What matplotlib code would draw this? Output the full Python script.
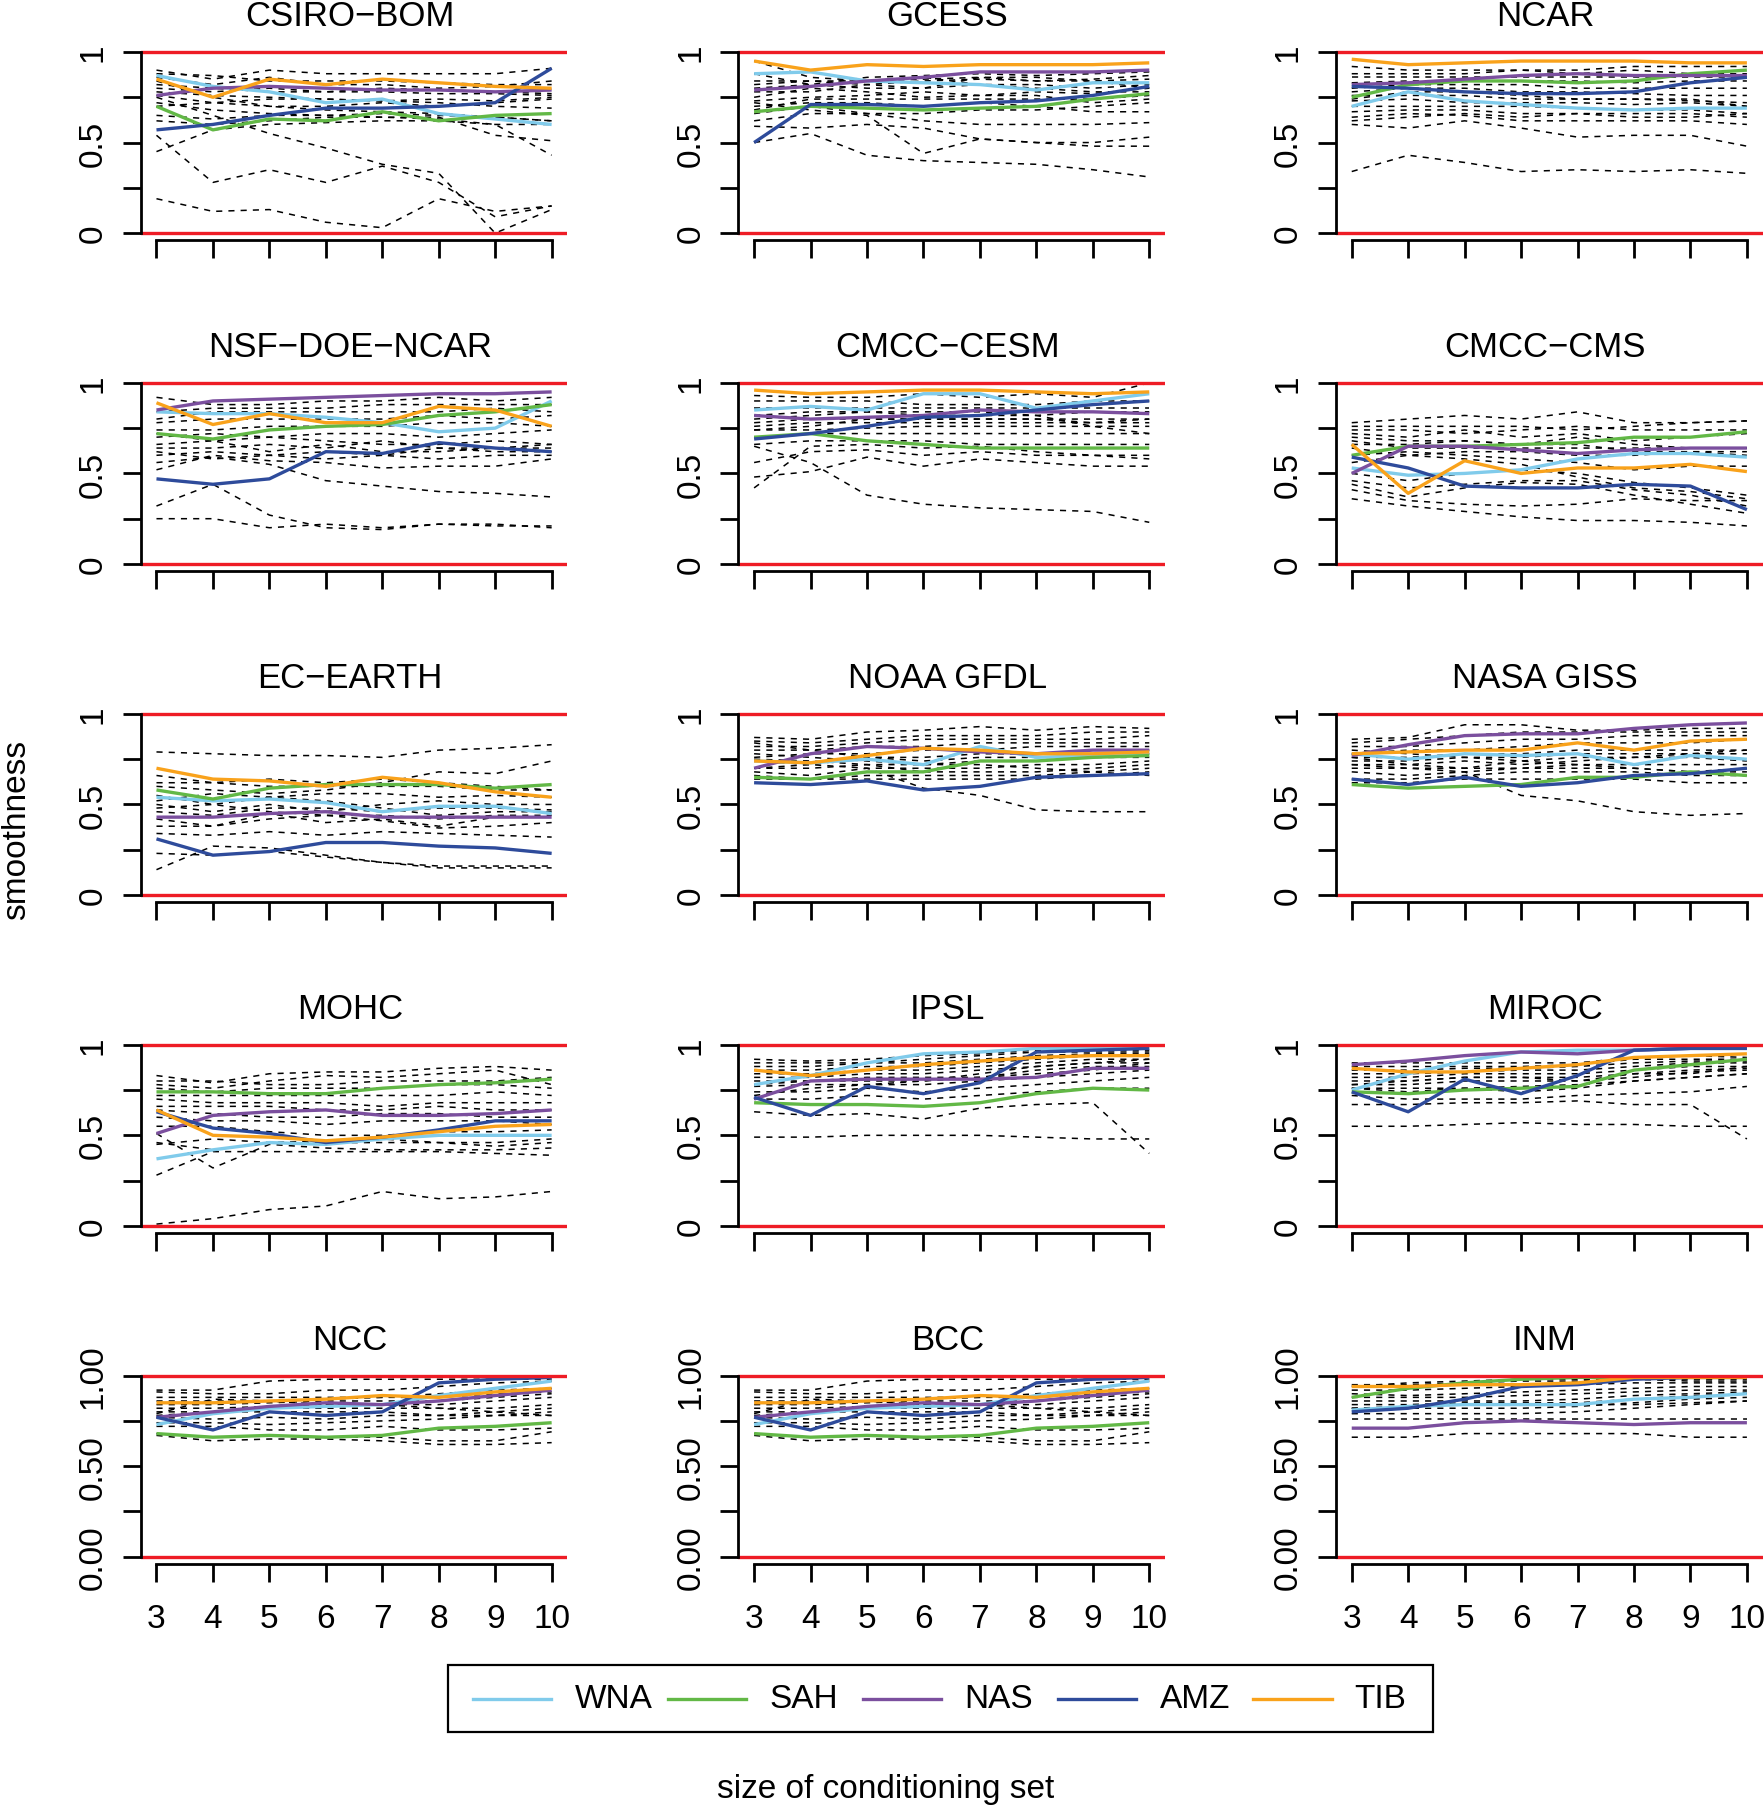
import matplotlib
matplotlib.use("Agg")
import matplotlib.pyplot as plt
from matplotlib.lines import Line2D
from matplotlib.patches import Rectangle

plt.rcParams['font.family'] = ['Liberation Sans', 'DejaVu Sans']

# ---------------- data ----------------
sizes = [3, 4, 5, 6, 7, 8, 9, 10]
regions = ["WNA", "SAH", "NAS", "AMZ", "TIB"]
region_colors = ["#80CBEB", "#62B846", "#7B4F9E", "#2E4B9B", "#F9A21B"]
models = ["CSIRO−BOM", "GCESS", "NCAR",
          "NSF−DOE−NCAR", "CMCC−CESM", "CMCC−CMS",
          "EC−EARTH", "NOAA GFDL", "NASA GISS",
          "MOHC", "IPSL", "MIROC",
          "NCC", "BCC", "INM"]

# highlighted regions, order WNA, SAH, NAS, AMZ, TIB
csiro_bom_hl = [
    [0.87, 0.81, 0.78, 0.72, 0.74, 0.66, 0.63, 0.60],
    [0.70, 0.57, 0.63, 0.62, 0.67, 0.62, 0.65, 0.66],
    [0.76, 0.80, 0.81, 0.80, 0.79, 0.79, 0.78, 0.79],
    [0.57, 0.60, 0.65, 0.69, 0.69, 0.70, 0.72, 0.91],
    [0.85, 0.75, 0.85, 0.82, 0.85, 0.83, 0.81, 0.80]]
gcess_hl = [
    [0.88, 0.89, 0.84, 0.83, 0.82, 0.79, 0.83, 0.83],
    [0.67, 0.70, 0.69, 0.68, 0.69, 0.70, 0.74, 0.77],
    [0.79, 0.81, 0.84, 0.86, 0.89, 0.89, 0.89, 0.90],
    [0.50, 0.71, 0.71, 0.70, 0.72, 0.73, 0.76, 0.81],
    [0.95, 0.90, 0.93, 0.92, 0.93, 0.93, 0.93, 0.94]]
ncar_hl = [
    [0.70, 0.78, 0.73, 0.71, 0.69, 0.68, 0.69, 0.69],
    [0.75, 0.82, 0.84, 0.84, 0.83, 0.84, 0.88, 0.90],
    [0.82, 0.83, 0.85, 0.87, 0.88, 0.87, 0.87, 0.87],
    [0.81, 0.80, 0.78, 0.77, 0.77, 0.78, 0.83, 0.86],
    [0.96, 0.93, 0.94, 0.95, 0.95, 0.95, 0.94, 0.94]]
nsf_doe_ncar_hl = [
    [0.84, 0.83, 0.83, 0.81, 0.78, 0.73, 0.75, 0.90],
    [0.72, 0.69, 0.74, 0.76, 0.77, 0.82, 0.84, 0.88],
    [0.85, 0.90, 0.91, 0.92, 0.93, 0.94, 0.94, 0.95],
    [0.47, 0.44, 0.47, 0.62, 0.61, 0.67, 0.64, 0.62],
    [0.89, 0.77, 0.83, 0.78, 0.78, 0.87, 0.85, 0.76]]
cmcc_cesm_hl = [
    [0.85, 0.87, 0.85, 0.94, 0.94, 0.86, 0.90, 0.94],
    [0.70, 0.72, 0.68, 0.66, 0.64, 0.64, 0.64, 0.64],
    [0.82, 0.80, 0.81, 0.82, 0.85, 0.84, 0.84, 0.83],
    [0.69, 0.72, 0.76, 0.81, 0.82, 0.85, 0.88, 0.90],
    [0.96, 0.94, 0.95, 0.96, 0.96, 0.95, 0.94, 0.95]]
cmcc_cms_hl = [
    [0.53, 0.49, 0.50, 0.52, 0.58, 0.61, 0.61, 0.59],
    [0.60, 0.65, 0.65, 0.66, 0.67, 0.70, 0.70, 0.73],
    [0.50, 0.65, 0.65, 0.63, 0.61, 0.63, 0.64, 0.64],
    [0.59, 0.53, 0.43, 0.42, 0.42, 0.44, 0.43, 0.30],
    [0.66, 0.39, 0.57, 0.50, 0.53, 0.53, 0.55, 0.51]]
ec_earth_hl = [
    [0.54, 0.52, 0.53, 0.51, 0.46, 0.49, 0.49, 0.45],
    [0.58, 0.53, 0.59, 0.61, 0.61, 0.61, 0.59, 0.61],
    [0.43, 0.43, 0.45, 0.46, 0.43, 0.43, 0.43, 0.43],
    [0.31, 0.22, 0.24, 0.29, 0.29, 0.27, 0.26, 0.23],
    [0.70, 0.64, 0.63, 0.60, 0.65, 0.62, 0.57, 0.54]]
noaa_gfdl_hl = [
    [0.74, 0.73, 0.75, 0.72, 0.82, 0.76, 0.77, 0.78],
    [0.65, 0.64, 0.68, 0.68, 0.74, 0.74, 0.76, 0.77],
    [0.70, 0.78, 0.82, 0.81, 0.79, 0.78, 0.80, 0.80],
    [0.62, 0.61, 0.63, 0.58, 0.60, 0.65, 0.66, 0.67],
    [0.74, 0.73, 0.77, 0.81, 0.80, 0.78, 0.78, 0.79]]
nasa_giss_hl = [
    [0.78, 0.75, 0.78, 0.77, 0.78, 0.72, 0.77, 0.75],
    [0.61, 0.59, 0.60, 0.61, 0.65, 0.65, 0.68, 0.66],
    [0.77, 0.83, 0.88, 0.89, 0.89, 0.92, 0.94, 0.95],
    [0.64, 0.61, 0.65, 0.60, 0.62, 0.66, 0.67, 0.70],
    [0.78, 0.79, 0.80, 0.80, 0.84, 0.80, 0.85, 0.86]]
mohc_hl = [
    [0.37, 0.42, 0.46, 0.45, 0.48, 0.50, 0.50, 0.50],
    [0.74, 0.74, 0.73, 0.73, 0.76, 0.78, 0.79, 0.81],
    [0.51, 0.61, 0.63, 0.64, 0.61, 0.61, 0.62, 0.64],
    [0.63, 0.54, 0.51, 0.46, 0.49, 0.53, 0.58, 0.58],
    [0.64, 0.50, 0.49, 0.47, 0.49, 0.52, 0.55, 0.56]]
ipsl_hl = [
    [0.78, 0.83, 0.90, 0.95, 0.96, 0.98, 0.98, 0.98],
    [0.68, 0.67, 0.67, 0.66, 0.68, 0.73, 0.76, 0.75],
    [0.70, 0.80, 0.81, 0.81, 0.81, 0.82, 0.87, 0.87],
    [0.71, 0.61, 0.77, 0.73, 0.79, 0.96, 0.97, 0.98],
    [0.86, 0.83, 0.86, 0.89, 0.91, 0.93, 0.94, 0.94]]
miroc_hl = [
    [0.75, 0.84, 0.91, 0.96, 0.97, 0.97, 0.98, 0.98],
    [0.74, 0.73, 0.75, 0.76, 0.77, 0.86, 0.89, 0.92],
    [0.89, 0.91, 0.94, 0.96, 0.95, 0.97, 0.98, 0.98],
    [0.74, 0.63, 0.81, 0.73, 0.83, 0.97, 0.98, 0.98],
    [0.87, 0.85, 0.85, 0.87, 0.89, 0.93, 0.94, 0.95]]
ncc_hl = [
    [0.73, 0.79, 0.82, 0.83, 0.84, 0.89, 0.93, 0.97],
    [0.68, 0.66, 0.67, 0.66, 0.67, 0.71, 0.72, 0.74],
    [0.77, 0.80, 0.83, 0.85, 0.84, 0.86, 0.89, 0.92],
    [0.77, 0.70, 0.80, 0.78, 0.80, 0.96, 0.98, 0.99],
    [0.85, 0.85, 0.86, 0.87, 0.89, 0.88, 0.91, 0.93]]
bcc_hl = [
    [0.73, 0.79, 0.82, 0.83, 0.84, 0.89, 0.93, 0.97],
    [0.68, 0.66, 0.67, 0.66, 0.67, 0.71, 0.72, 0.74],
    [0.77, 0.80, 0.83, 0.85, 0.84, 0.86, 0.89, 0.92],
    [0.77, 0.70, 0.80, 0.78, 0.80, 0.96, 0.98, 0.99],
    [0.85, 0.85, 0.86, 0.87, 0.89, 0.88, 0.91, 0.93]]
inm_hl = [
    [0.81, 0.83, 0.84, 0.84, 0.84, 0.87, 0.88, 0.90],
    [0.88, 0.93, 0.96, 0.98, 0.99, 0.99, 0.99, 0.99],
    [0.71, 0.71, 0.74, 0.75, 0.74, 0.73, 0.74, 0.74],
    [0.80, 0.82, 0.87, 0.94, 0.95, 0.98, 0.99, 0.99],
    [0.94, 0.94, 0.95, 0.95, 0.96, 0.99, 0.99, 0.99]]

# all other regions (black dashed)
csiro_bom_other = [
    [0.19, 0.12, 0.13, 0.06, 0.03, 0.19, 0.12, 0.15],
    [0.54, 0.28, 0.35, 0.28, 0.37, 0.28, 0.09, 0.15],
    [0.75, 0.65, 0.55, 0.47, 0.38, 0.33, 0.00, 0.13],
    [0.45, 0.57, 0.60, 0.61, 0.62, 0.62, 0.60, 0.60],
    [0.62, 0.60, 0.62, 0.64, 0.64, 0.64, 0.54, 0.51],
    [0.72, 0.68, 0.66, 0.65, 0.64, 0.63, 0.60, 0.43],
    [0.65, 0.63, 0.65, 0.65, 0.66, 0.65, 0.64, 0.62],
    [0.70, 0.72, 0.74, 0.74, 0.73, 0.72, 0.70, 0.69],
    [0.78, 0.76, 0.75, 0.74, 0.73, 0.74, 0.73, 0.75],
    [0.80, 0.78, 0.80, 0.78, 0.78, 0.77, 0.77, 0.76],
    [0.82, 0.80, 0.78, 0.78, 0.80, 0.79, 0.78, 0.77],
    [0.86, 0.82, 0.86, 0.82, 0.82, 0.80, 0.81, 0.84],
    [0.90, 0.85, 0.90, 0.88, 0.88, 0.88, 0.88, 0.91],
    [0.88, 0.87, 0.84, 0.84, 0.84, 0.83, 0.82, 0.82],
    [0.76, 0.72, 0.70, 0.70, 0.72, 0.70, 0.72, 0.74],
    [0.84, 0.75, 0.70, 0.68, 0.67, 0.66, 0.64, 0.62]]
gcess_other = [
    [0.50, 0.55, 0.43, 0.40, 0.39, 0.38, 0.35, 0.31],
    [0.59, 0.58, 0.60, 0.58, 0.52, 0.50, 0.50, 0.53],
    [0.72, 0.68, 0.65, 0.44, 0.52, 0.50, 0.48, 0.48],
    [0.66, 0.70, 0.66, 0.62, 0.60, 0.60, 0.60, 0.61],
    [0.70, 0.72, 0.72, 0.70, 0.72, 0.70, 0.67, 0.67],
    [0.75, 0.80, 0.78, 0.75, 0.76, 0.76, 0.72, 0.74],
    [0.80, 0.82, 0.80, 0.80, 0.82, 0.80, 0.78, 0.78],
    [0.84, 0.84, 0.84, 0.86, 0.82, 0.82, 0.80, 0.82],
    [0.95, 0.86, 0.84, 0.85, 0.86, 0.84, 0.85, 0.87],
    [0.88, 0.82, 0.86, 0.87, 0.88, 0.87, 0.88, 0.89],
    [0.78, 0.78, 0.82, 0.84, 0.85, 0.84, 0.84, 0.85],
    [0.73, 0.75, 0.76, 0.78, 0.76, 0.78, 0.77, 0.80],
    [0.68, 0.74, 0.74, 0.74, 0.74, 0.74, 0.74, 0.76],
    [0.62, 0.66, 0.66, 0.66, 0.68, 0.68, 0.70, 0.72],
    [0.82, 0.84, 0.82, 0.80, 0.86, 0.86, 0.84, 0.80]]
ncar_other = [
    [0.34, 0.43, 0.39, 0.34, 0.35, 0.34, 0.35, 0.33],
    [0.60, 0.58, 0.62, 0.58, 0.53, 0.54, 0.54, 0.48],
    [0.64, 0.66, 0.65, 0.62, 0.62, 0.62, 0.62, 0.60],
    [0.67, 0.68, 0.68, 0.66, 0.66, 0.66, 0.66, 0.64],
    [0.70, 0.70, 0.70, 0.70, 0.69, 0.68, 0.68, 0.66],
    [0.73, 0.74, 0.72, 0.72, 0.72, 0.71, 0.72, 0.70],
    [0.76, 0.76, 0.76, 0.74, 0.74, 0.74, 0.73, 0.72],
    [0.78, 0.80, 0.80, 0.78, 0.78, 0.77, 0.76, 0.76],
    [0.80, 0.82, 0.82, 0.82, 0.80, 0.80, 0.80, 0.80],
    [0.83, 0.84, 0.84, 0.84, 0.84, 0.83, 0.84, 0.84],
    [0.86, 0.86, 0.86, 0.86, 0.86, 0.86, 0.86, 0.86],
    [0.88, 0.88, 0.88, 0.90, 0.88, 0.90, 0.88, 0.88],
    [0.92, 0.90, 0.90, 0.90, 0.90, 0.92, 0.92, 0.92],
    [0.74, 0.78, 0.78, 0.76, 0.74, 0.74, 0.74, 0.70],
    [0.62, 0.64, 0.66, 0.64, 0.66, 0.64, 0.64, 0.66]]
nsf_doe_ncar_other = [
    [0.25, 0.25, 0.20, 0.22, 0.20, 0.22, 0.22, 0.20],
    [0.32, 0.44, 0.27, 0.20, 0.19, 0.22, 0.21, 0.21],
    [0.56, 0.59, 0.55, 0.46, 0.43, 0.40, 0.39, 0.37],
    [0.52, 0.60, 0.57, 0.56, 0.53, 0.54, 0.54, 0.58],
    [0.60, 0.62, 0.60, 0.58, 0.60, 0.64, 0.64, 0.66],
    [0.64, 0.64, 0.66, 0.64, 0.68, 0.64, 0.62, 0.62],
    [0.66, 0.68, 0.70, 0.68, 0.66, 0.66, 0.68, 0.66],
    [0.70, 0.72, 0.70, 0.72, 0.72, 0.70, 0.72, 0.74],
    [0.74, 0.74, 0.76, 0.76, 0.76, 0.78, 0.78, 0.76],
    [0.78, 0.80, 0.80, 0.80, 0.80, 0.82, 0.80, 0.82],
    [0.80, 0.84, 0.84, 0.84, 0.84, 0.84, 0.86, 0.84],
    [0.84, 0.86, 0.86, 0.86, 0.88, 0.88, 0.88, 0.88],
    [0.92, 0.88, 0.88, 0.90, 0.90, 0.92, 0.90, 0.92],
    [0.72, 0.68, 0.62, 0.66, 0.62, 0.62, 0.64, 0.64],
    [0.62, 0.58, 0.60, 0.62, 0.60, 0.58, 0.60, 0.60]]
cmcc_cesm_other = [
    [0.65, 0.56, 0.38, 0.33, 0.31, 0.30, 0.29, 0.23],
    [0.42, 0.65, 0.66, 0.64, 0.65, 0.62, 0.60, 0.60],
    [0.48, 0.51, 0.59, 0.54, 0.58, 0.56, 0.54, 0.54],
    [0.56, 0.62, 0.63, 0.60, 0.62, 0.60, 0.60, 0.58],
    [0.66, 0.68, 0.68, 0.68, 0.66, 0.66, 0.66, 0.66],
    [0.70, 0.72, 0.72, 0.72, 0.72, 0.72, 0.72, 0.72],
    [0.74, 0.74, 0.75, 0.76, 0.76, 0.76, 0.76, 0.76],
    [0.76, 0.78, 0.78, 0.78, 0.78, 0.78, 0.78, 0.78],
    [0.78, 0.80, 0.80, 0.80, 0.80, 0.80, 0.80, 0.80],
    [0.82, 0.84, 0.84, 0.82, 0.82, 0.82, 0.84, 0.84],
    [0.86, 0.86, 0.86, 0.86, 0.86, 0.86, 0.86, 0.86],
    [0.90, 0.90, 0.90, 0.88, 0.88, 0.88, 0.90, 0.90],
    [0.93, 0.92, 0.92, 0.94, 0.92, 0.94, 0.92, 1.00],
    [0.80, 0.82, 0.84, 0.84, 0.84, 0.82, 0.76, 0.72],
    [0.74, 0.76, 0.80, 0.80, 0.80, 0.80, 0.78, 0.80]]
cmcc_cms_other = [
    [0.36, 0.32, 0.29, 0.26, 0.24, 0.24, 0.23, 0.21],
    [0.41, 0.35, 0.33, 0.32, 0.33, 0.36, 0.35, 0.35],
    [0.44, 0.37, 0.42, 0.45, 0.44, 0.38, 0.33, 0.28],
    [0.46, 0.42, 0.44, 0.46, 0.46, 0.41, 0.38, 0.32],
    [0.50, 0.46, 0.50, 0.52, 0.50, 0.45, 0.42, 0.38],
    [0.56, 0.60, 0.58, 0.55, 0.48, 0.42, 0.40, 0.36],
    [0.60, 0.62, 0.60, 0.58, 0.56, 0.52, 0.54, 0.54],
    [0.64, 0.60, 0.62, 0.62, 0.60, 0.60, 0.62, 0.60],
    [0.68, 0.64, 0.64, 0.64, 0.64, 0.64, 0.64, 0.64],
    [0.70, 0.68, 0.68, 0.66, 0.70, 0.66, 0.64, 0.64],
    [0.72, 0.70, 0.74, 0.70, 0.72, 0.68, 0.70, 0.72],
    [0.74, 0.74, 0.72, 0.74, 0.76, 0.74, 0.74, 0.74],
    [0.78, 0.80, 0.82, 0.80, 0.84, 0.78, 0.78, 0.79],
    [0.76, 0.76, 0.76, 0.76, 0.74, 0.76, 0.78, 0.79],
    [0.66, 0.66, 0.68, 0.66, 0.66, 0.62, 0.62, 0.62]]
ec_earth_other = [
    [0.79, 0.78, 0.77, 0.77, 0.76, 0.80, 0.81, 0.83],
    [0.14, 0.27, 0.26, 0.22, 0.18, 0.16, 0.16, 0.16],
    [0.23, 0.22, 0.24, 0.21, 0.18, 0.15, 0.15, 0.15],
    [0.34, 0.33, 0.35, 0.33, 0.35, 0.34, 0.33, 0.32],
    [0.38, 0.38, 0.42, 0.44, 0.41, 0.37, 0.38, 0.40],
    [0.42, 0.38, 0.45, 0.40, 0.42, 0.38, 0.43, 0.43],
    [0.46, 0.44, 0.48, 0.48, 0.46, 0.48, 0.48, 0.47],
    [0.50, 0.46, 0.50, 0.46, 0.50, 0.52, 0.50, 0.50],
    [0.55, 0.50, 0.54, 0.56, 0.56, 0.54, 0.55, 0.54],
    [0.60, 0.58, 0.56, 0.58, 0.62, 0.68, 0.67, 0.74],
    [0.62, 0.62, 0.60, 0.60, 0.60, 0.60, 0.58, 0.58],
    [0.66, 0.62, 0.64, 0.62, 0.64, 0.62, 0.60, 0.58],
    [0.52, 0.56, 0.54, 0.52, 0.48, 0.44, 0.46, 0.46],
    [0.48, 0.50, 0.46, 0.44, 0.44, 0.42, 0.44, 0.44]]
noaa_gfdl_other = [
    [0.70, 0.72, 0.70, 0.59, 0.55, 0.47, 0.46, 0.46],
    [0.87, 0.86, 0.90, 0.91, 0.93, 0.91, 0.93, 0.92],
    [0.85, 0.84, 0.86, 0.88, 0.88, 0.88, 0.90, 0.90],
    [0.82, 0.82, 0.84, 0.86, 0.86, 0.86, 0.86, 0.88],
    [0.80, 0.80, 0.82, 0.82, 0.84, 0.84, 0.84, 0.84],
    [0.76, 0.78, 0.78, 0.80, 0.80, 0.82, 0.82, 0.82],
    [0.74, 0.72, 0.76, 0.76, 0.78, 0.78, 0.80, 0.80],
    [0.70, 0.70, 0.72, 0.72, 0.74, 0.74, 0.76, 0.76],
    [0.68, 0.66, 0.70, 0.70, 0.70, 0.72, 0.72, 0.74],
    [0.66, 0.64, 0.66, 0.66, 0.66, 0.66, 0.68, 0.70],
    [0.64, 0.64, 0.64, 0.64, 0.64, 0.64, 0.66, 0.68],
    [0.78, 0.76, 0.74, 0.72, 0.72, 0.70, 0.68, 0.66],
    [0.84, 0.80, 0.76, 0.74, 0.76, 0.76, 0.76, 0.78],
    [0.75, 0.74, 0.72, 0.68, 0.68, 0.68, 0.70, 0.72]]
nasa_giss_other = [
    [0.72, 0.70, 0.68, 0.55, 0.52, 0.46, 0.44, 0.45],
    [0.86, 0.87, 0.94, 0.94, 0.91, 0.91, 0.92, 0.92],
    [0.84, 0.86, 0.88, 0.90, 0.90, 0.90, 0.90, 0.90],
    [0.82, 0.82, 0.84, 0.86, 0.86, 0.88, 0.88, 0.88],
    [0.78, 0.80, 0.80, 0.82, 0.84, 0.84, 0.84, 0.86],
    [0.76, 0.76, 0.78, 0.78, 0.80, 0.80, 0.80, 0.80],
    [0.74, 0.74, 0.76, 0.76, 0.78, 0.78, 0.78, 0.78],
    [0.72, 0.72, 0.74, 0.72, 0.74, 0.76, 0.76, 0.74],
    [0.70, 0.70, 0.70, 0.70, 0.72, 0.72, 0.72, 0.72],
    [0.68, 0.66, 0.68, 0.70, 0.70, 0.70, 0.68, 0.70],
    [0.64, 0.64, 0.66, 0.68, 0.68, 0.68, 0.66, 0.66],
    [0.62, 0.62, 0.64, 0.64, 0.64, 0.64, 0.62, 0.62],
    [0.80, 0.78, 0.76, 0.74, 0.72, 0.70, 0.68, 0.68],
    [0.76, 0.72, 0.70, 0.74, 0.76, 0.76, 0.78, 0.80]]
mohc_other = [
    [0.01, 0.04, 0.09, 0.11, 0.19, 0.15, 0.16, 0.19],
    [0.28, 0.41, 0.41, 0.41, 0.41, 0.41, 0.40, 0.39],
    [0.51, 0.32, 0.45, 0.43, 0.42, 0.42, 0.42, 0.43],
    [0.45, 0.48, 0.46, 0.46, 0.46, 0.46, 0.44, 0.46],
    [0.46, 0.42, 0.46, 0.47, 0.48, 0.46, 0.46, 0.48],
    [0.55, 0.55, 0.52, 0.50, 0.50, 0.52, 0.52, 0.53],
    [0.60, 0.58, 0.58, 0.56, 0.58, 0.58, 0.58, 0.56],
    [0.64, 0.62, 0.60, 0.60, 0.62, 0.62, 0.60, 0.60],
    [0.66, 0.66, 0.66, 0.64, 0.64, 0.66, 0.64, 0.64],
    [0.70, 0.68, 0.68, 0.68, 0.66, 0.68, 0.68, 0.68],
    [0.72, 0.72, 0.72, 0.72, 0.72, 0.72, 0.74, 0.72],
    [0.76, 0.74, 0.76, 0.76, 0.76, 0.78, 0.78, 0.76],
    [0.80, 0.80, 0.78, 0.78, 0.80, 0.80, 0.80, 0.82],
    [0.83, 0.79, 0.84, 0.85, 0.85, 0.87, 0.88, 0.86],
    [0.78, 0.76, 0.80, 0.83, 0.82, 0.84, 0.86, 0.78]]
ipsl_other = [
    [0.49, 0.49, 0.50, 0.50, 0.50, 0.49, 0.48, 0.48],
    [0.63, 0.61, 0.62, 0.59, 0.65, 0.67, 0.68, 0.40],
    [0.70, 0.70, 0.72, 0.70, 0.72, 0.74, 0.76, 0.76],
    [0.74, 0.74, 0.76, 0.74, 0.76, 0.78, 0.80, 0.82],
    [0.77, 0.78, 0.78, 0.78, 0.80, 0.82, 0.84, 0.86],
    [0.80, 0.80, 0.82, 0.82, 0.82, 0.86, 0.88, 0.88],
    [0.82, 0.82, 0.84, 0.84, 0.86, 0.88, 0.90, 0.90],
    [0.84, 0.84, 0.86, 0.86, 0.88, 0.90, 0.92, 0.92],
    [0.86, 0.86, 0.88, 0.88, 0.90, 0.92, 0.94, 0.94],
    [0.88, 0.88, 0.90, 0.90, 0.92, 0.94, 0.95, 0.95],
    [0.90, 0.90, 0.90, 0.92, 0.94, 0.96, 0.96, 0.96],
    [0.92, 0.91, 0.92, 0.94, 0.95, 0.97, 0.97, 0.97],
    [0.78, 0.80, 0.80, 0.80, 0.82, 0.84, 0.86, 0.90],
    [0.72, 0.76, 0.78, 0.80, 0.84, 0.88, 0.90, 0.92]]
miroc_other = [
    [0.55, 0.55, 0.56, 0.57, 0.56, 0.56, 0.55, 0.55],
    [0.67, 0.67, 0.68, 0.68, 0.69, 0.67, 0.67, 0.48],
    [0.72, 0.70, 0.70, 0.70, 0.72, 0.73, 0.74, 0.77],
    [0.76, 0.76, 0.76, 0.77, 0.78, 0.80, 0.82, 0.84],
    [0.78, 0.78, 0.80, 0.80, 0.80, 0.82, 0.85, 0.86],
    [0.80, 0.80, 0.82, 0.82, 0.82, 0.84, 0.86, 0.87],
    [0.82, 0.82, 0.84, 0.84, 0.84, 0.86, 0.88, 0.88],
    [0.84, 0.84, 0.85, 0.86, 0.86, 0.88, 0.90, 0.90],
    [0.86, 0.86, 0.87, 0.87, 0.88, 0.90, 0.91, 0.91],
    [0.88, 0.88, 0.88, 0.88, 0.89, 0.92, 0.92, 0.92],
    [0.90, 0.90, 0.90, 0.90, 0.90, 0.93, 0.94, 0.93],
    [0.78, 0.80, 0.82, 0.82, 0.80, 0.84, 0.84, 0.88],
    [0.76, 0.74, 0.76, 0.74, 0.76, 0.80, 0.82, 0.84]]
ncc_other = [
    [0.67, 0.64, 0.65, 0.65, 0.64, 0.62, 0.62, 0.63],
    [0.68, 0.66, 0.67, 0.66, 0.66, 0.64, 0.64, 0.69],
    [0.72, 0.72, 0.70, 0.70, 0.72, 0.70, 0.70, 0.71],
    [0.74, 0.74, 0.73, 0.74, 0.75, 0.76, 0.78, 0.80],
    [0.77, 0.76, 0.77, 0.76, 0.78, 0.78, 0.80, 0.82],
    [0.78, 0.80, 0.80, 0.80, 0.80, 0.78, 0.78, 0.78],
    [0.80, 0.80, 0.82, 0.82, 0.82, 0.82, 0.82, 0.84],
    [0.82, 0.82, 0.83, 0.84, 0.84, 0.84, 0.86, 0.88],
    [0.84, 0.84, 0.85, 0.86, 0.86, 0.86, 0.88, 0.90],
    [0.86, 0.86, 0.86, 0.87, 0.88, 0.88, 0.90, 0.91],
    [0.88, 0.88, 0.88, 0.88, 0.88, 0.90, 0.92, 0.93],
    [0.92, 0.92, 0.97, 0.98, 0.98, 0.98, 0.98, 0.98],
    [0.91, 0.90, 0.90, 0.92, 0.92, 0.94, 0.96, 0.97],
    [0.79, 0.87, 0.86, 0.84, 0.84, 0.82, 0.80, 0.78]]
bcc_other = [
    [0.67, 0.64, 0.65, 0.65, 0.64, 0.62, 0.62, 0.63],
    [0.68, 0.66, 0.67, 0.66, 0.66, 0.64, 0.64, 0.69],
    [0.72, 0.72, 0.70, 0.70, 0.72, 0.70, 0.70, 0.71],
    [0.74, 0.74, 0.73, 0.74, 0.75, 0.76, 0.78, 0.80],
    [0.77, 0.76, 0.77, 0.76, 0.78, 0.78, 0.80, 0.82],
    [0.78, 0.80, 0.80, 0.80, 0.80, 0.78, 0.78, 0.78],
    [0.80, 0.80, 0.82, 0.82, 0.82, 0.82, 0.82, 0.84],
    [0.82, 0.82, 0.83, 0.84, 0.84, 0.84, 0.86, 0.88],
    [0.84, 0.84, 0.85, 0.86, 0.86, 0.86, 0.88, 0.90],
    [0.86, 0.86, 0.86, 0.87, 0.88, 0.88, 0.90, 0.91],
    [0.88, 0.88, 0.88, 0.88, 0.88, 0.90, 0.92, 0.93],
    [0.92, 0.92, 0.97, 0.98, 0.98, 0.98, 0.98, 0.98],
    [0.91, 0.90, 0.90, 0.92, 0.92, 0.94, 0.96, 0.97],
    [0.79, 0.87, 0.86, 0.84, 0.84, 0.82, 0.80, 0.78]]
inm_other = [
    [0.66, 0.66, 0.68, 0.68, 0.68, 0.68, 0.66, 0.66],
    [0.76, 0.76, 0.76, 0.76, 0.76, 0.76, 0.76, 0.76],
    [0.79, 0.79, 0.79, 0.79, 0.80, 0.82, 0.84, 0.86],
    [0.82, 0.82, 0.82, 0.82, 0.83, 0.85, 0.87, 0.88],
    [0.84, 0.84, 0.85, 0.85, 0.85, 0.87, 0.89, 0.90],
    [0.86, 0.86, 0.86, 0.86, 0.87, 0.89, 0.90, 0.91],
    [0.88, 0.88, 0.88, 0.89, 0.90, 0.91, 0.92, 0.92],
    [0.90, 0.89, 0.90, 0.91, 0.92, 0.93, 0.94, 0.94],
    [0.92, 0.92, 0.93, 0.94, 0.95, 0.96, 0.96, 0.96],
    [0.95, 0.95, 0.96, 0.97, 0.97, 0.98, 0.98, 0.98],
    [0.94, 0.96, 0.97, 0.98, 0.98, 0.98, 0.97, 0.97],
    [0.82, 0.83, 0.84, 0.84, 0.84, 0.84, 0.85, 0.86]]

highlighted = [csiro_bom_hl, gcess_hl, ncar_hl, nsf_doe_ncar_hl, cmcc_cesm_hl,
               cmcc_cms_hl, ec_earth_hl, noaa_gfdl_hl, nasa_giss_hl, mohc_hl,
               ipsl_hl, miroc_hl, ncc_hl, bcc_hl, inm_hl]
others = [csiro_bom_other, gcess_other, ncar_other, nsf_doe_ncar_other,
          cmcc_cesm_other, cmcc_cms_other, ec_earth_other, noaa_gfdl_other,
          nasa_giss_other, mohc_other, ipsl_other, miroc_other, ncc_other,
          bcc_other, inm_other]

# ---------------- figure ----------------
W, H = 1765, 1808
fig = plt.figure(figsize=(W / 100, H / 100), dpi=100)

FS = 24
col_left = [0.0797, 0.4183, 0.7569]
ax_w = 0.2418
row_bottom = [0.8665, 0.6835, 0.5004, 0.3174, 0.1344]
ax_h = 0.1082
RED = "#EE1C25"
AXLW = 2.0

for i, name in enumerate(models):
    r, c = divmod(i, 3)
    ax = fig.add_axes([col_left[c], row_bottom[r], ax_w, ax_h])
    ax.set_xlim(2.72, 10.28)
    ax.set_ylim(-0.04, 1.04)
    for series in others[i]:
        ax.plot(sizes, series, color="black", lw=1.1, linestyle=(0, (4, 4)))
    for series, col in zip(highlighted[i], region_colors):
        ax.plot(sizes, series, color=col, lw=2.4, solid_capstyle="butt")
    ax.axhline(0, color=RED, lw=2.4)
    ax.axhline(1, color=RED, lw=2.4)

    for s in ("top", "right"):
        ax.spines[s].set_visible(False)
    ax.spines["left"].set_bounds(0, 1)
    ax.spines["bottom"].set_bounds(3, 10)
    ax.spines["left"].set_linewidth(AXLW)
    ax.spines["bottom"].set_linewidth(AXLW)

    ax.set_xticks(sizes)
    ax.set_yticks([0, 0.25, 0.5, 0.75, 1])
    if r == 4:
        ax.set_yticklabels(["0.00", "", "0.50", "", "1.00"])
        ax.set_xticklabels([str(s) for s in sizes])
    else:
        ax.set_yticklabels(["0", "", "0.5", "", "1"])
        ax.set_xticklabels([])
    ax.tick_params(axis="both", direction="out", length=13, width=AXLW,
                   labelsize=FS)
    ax.tick_params(axis="y", labelrotation=90, pad=10)
    ax.tick_params(axis="x", pad=15)
    for lab in ax.get_yticklabels():
        lab.set_va("center")
    ax.text(0.49, 1.15, name, transform=ax.transAxes, ha="center",
            va="center", fontsize=FS + 1)

fig.text(0.0095, 0.541, "smoothness", rotation=90, ha="center",
         va="center", fontsize=FS)
fig.text(0.502, 0.0102, "size of conditioning set", ha="center",
         va="center", fontsize=FS)

# legend
fig.patches.append(Rectangle((0.2536, 0.0415), 0.8118 - 0.2536, 0.0784 - 0.0415,
                             transform=fig.transFigure, fill=False,
                             edgecolor="black", lw=1.6))
x0 = 0.268
step = 0.1105
for k, (lab, col) in enumerate(zip(regions, region_colors)):
    xs = x0 + k * step
    fig.lines.append(Line2D([xs, xs + 0.0444], [0.06, 0.06], color=col, lw=2.4,
                            transform=fig.transFigure))
    fig.text(xs + 0.0575, 0.06, lab, ha="left", va="center", fontsize=FS)

fig.savefig("out.png", dpi=100)
